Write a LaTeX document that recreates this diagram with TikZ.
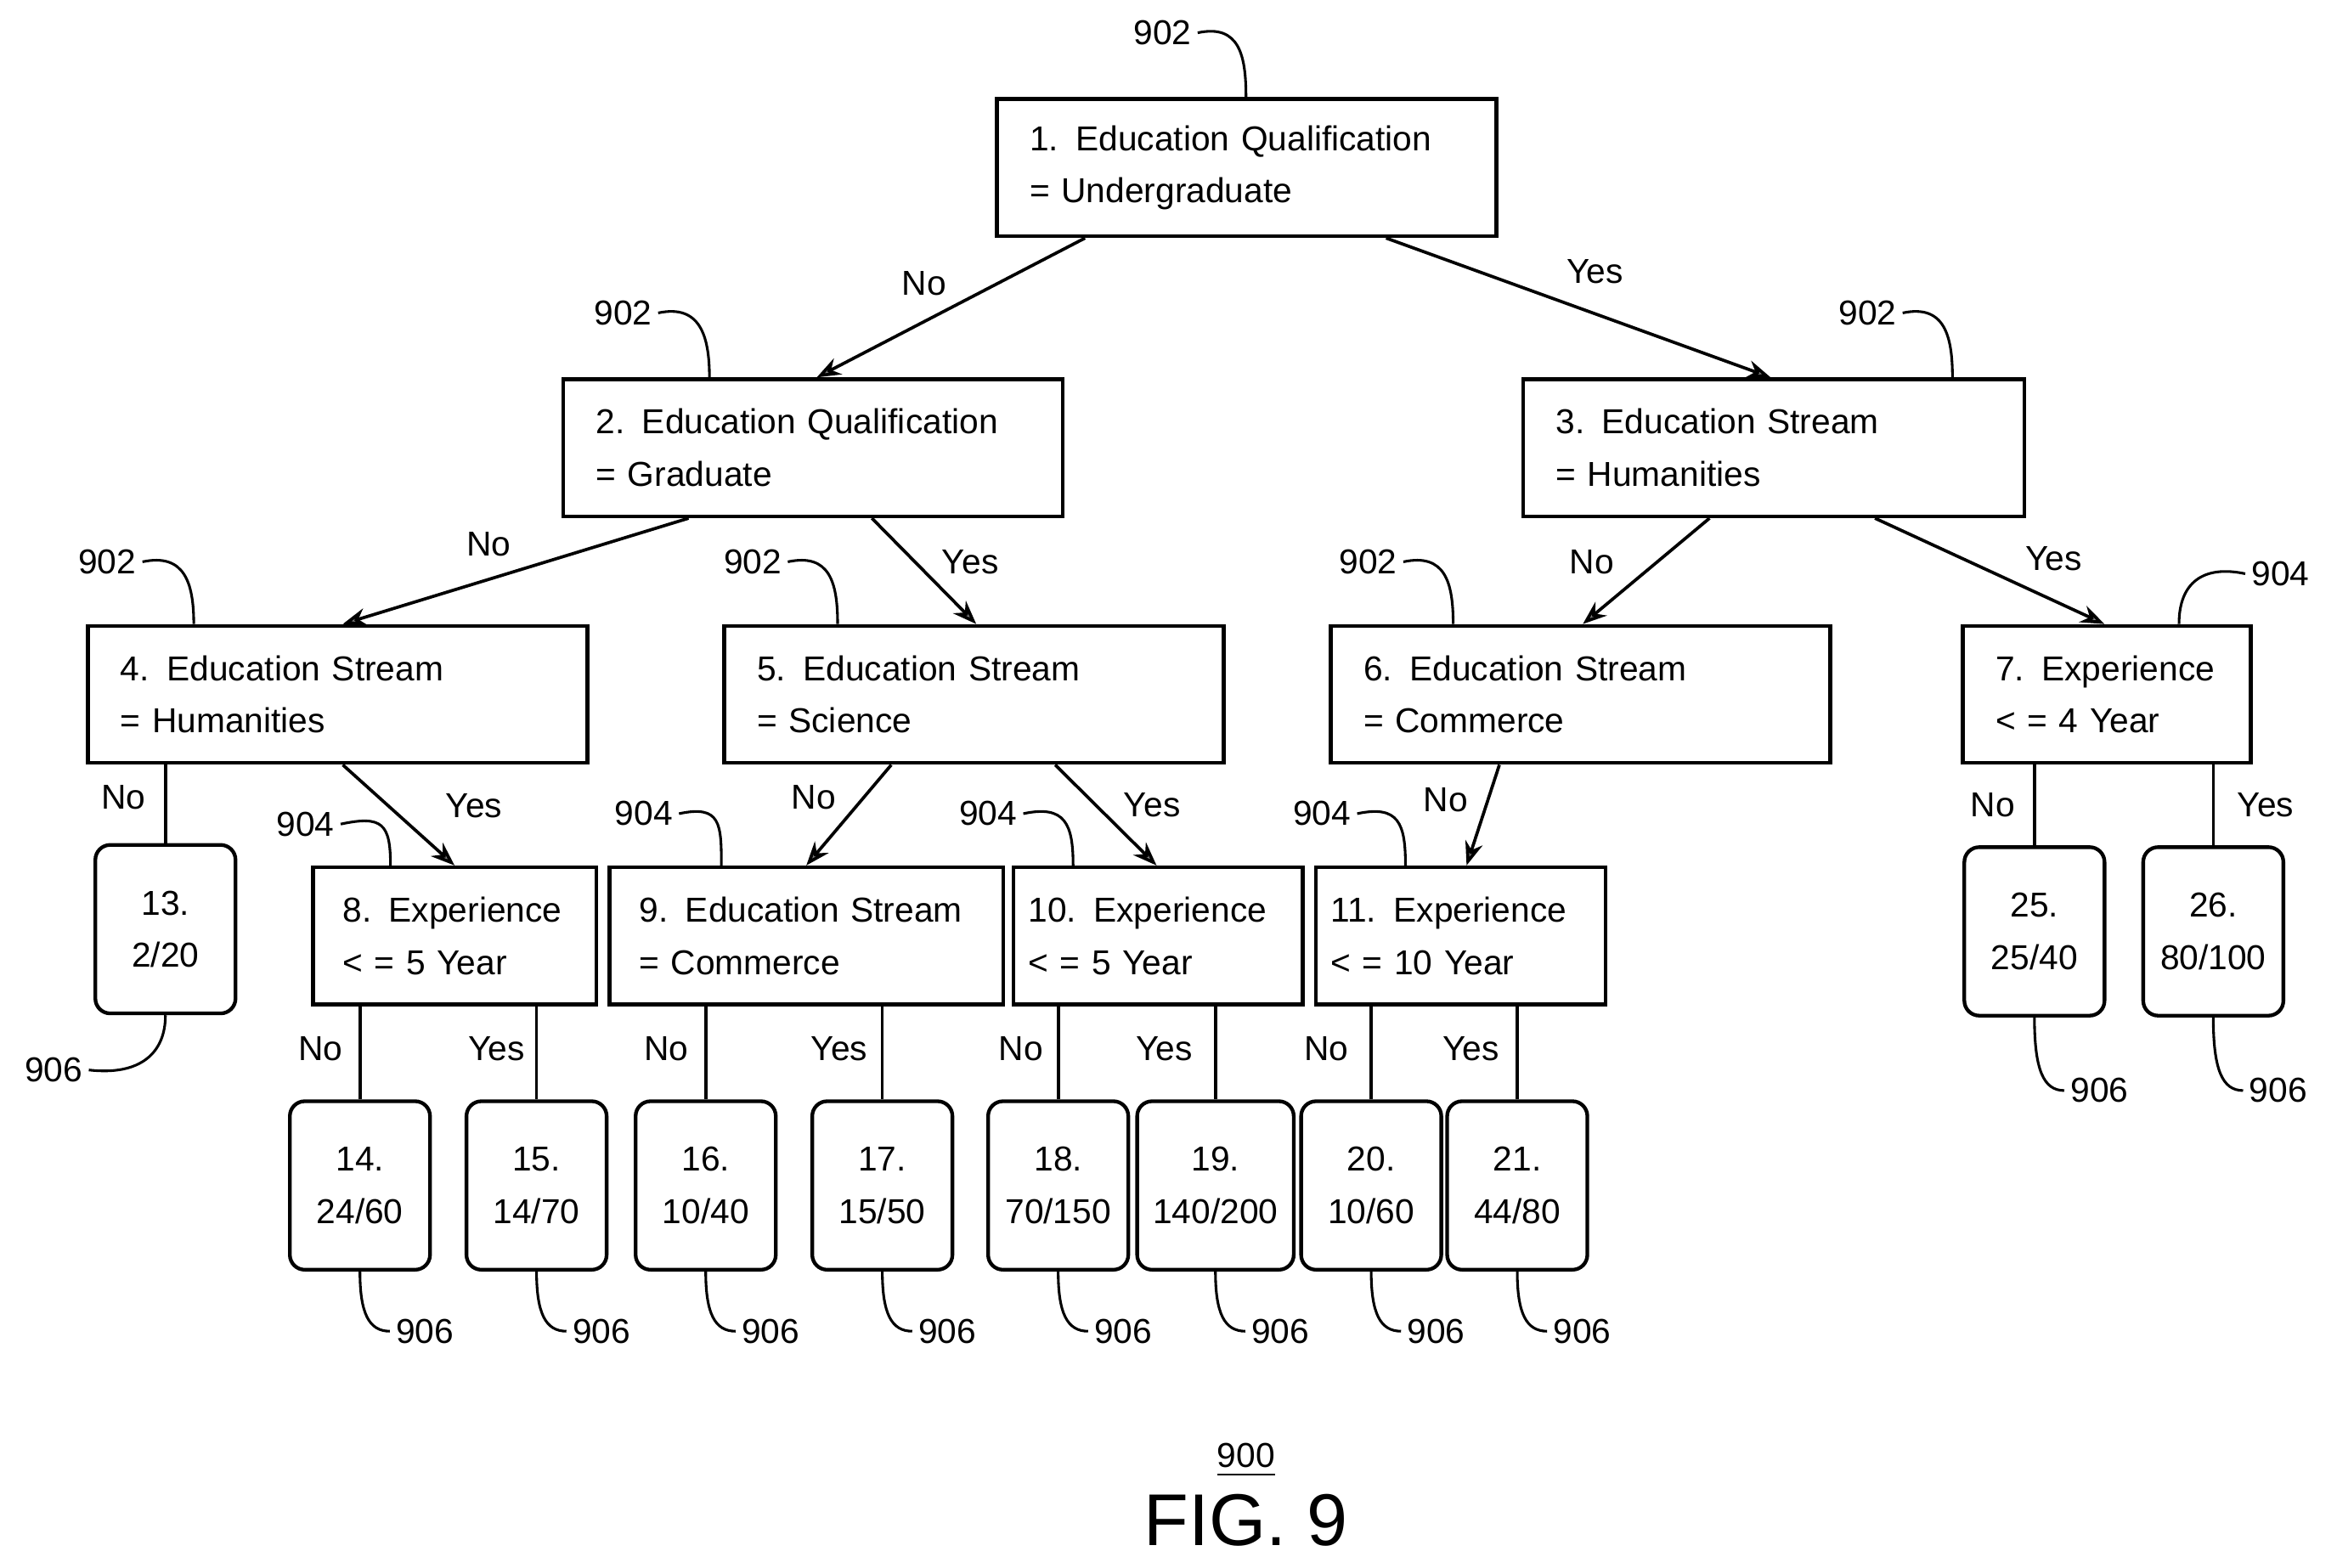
\documentclass[tikz,border=0pt]{standalone}
\usepackage{fontspec}
\setmainfont{Liberation Sans}
\usetikzlibrary{arrows.meta}
\begin{document}
\begin{tikzpicture}[x=0.01cm,y=-0.01cm,
  every node/.style={font=\fontsize{6.6}{10}\selectfont},
  dec/.style={draw,line width=0.7pt,minimum height=0.92cm,inner xsep=0.22cm,inner ysep=0pt,align=left},
  leaf/.style={draw,line width=0.7pt,rounded corners=0.1cm,minimum width=0.94cm,minimum height=1.13cm,inner sep=0pt,align=center},
  arr/.style={line width=0.6pt,-{Stealth[length=0.16cm,width=0.12cm,open,fill=gray]}},
  ln/.style={line width=0.6pt},
  lbl/.style={inner sep=1pt},
  lead/.style={line width=0.5pt}]
\useasboundingbox (0,0) rectangle (1568,1052);
% decision boxes
\node[dec,text width=2.91cm] (b1) at (836.5,112.5) {1. Education Qualification\\= Undergraduate};
\node[dec,text width=2.91cm] (b2) at (545.5,300.5) {2. Education Qualification\\= Graduate};
\node[dec,text width=2.92cm] (b3) at (1190,300.5) {3. Education Stream\\= Humanities};
\node[dec,text width=2.91cm] (b4) at (226.5,466) {4. Education Stream\\= Humanities};
\node[dec,text width=2.91cm] (b5) at (653.5,466) {5. Education Stream\\= Science};
\node[dec,text width=2.91cm] (b6) at (1060.5,466) {6. Education Stream\\= Commerce};
\node[dec,text width=1.49cm] (b7) at (1413.5,466) {7. Experience\\< = 4 Year};
\node[dec,text width=1.50cm,inner xsep=0.2cm] (b8) at (305,628) {8. Experience\\< = 5 Year};
\node[dec,text width=2.24cm,inner xsep=0.2cm] (b9) at (541,628) {9. Education Stream\\= Commerce};
\node[dec,text width=1.74cm,inner xsep=0.1cm] (b10) at (777,628) {10. Experience\\< = 5 Year};
\node[dec,text width=1.74cm,inner xsep=0.1cm] (b11) at (980,628) {11. Experience\\< = 10 Year};
% leaves
\node[leaf] (l13) at (111,623.5) {13.\\2/20};
\node[leaf] (l14) at (241.5,795.5) {14.\\24/60};
\node[leaf] (l15) at (360,795.5) {15.\\14/70};
\node[leaf] (l16) at (473.5,795.5) {16.\\10/40};
\node[leaf] (l17) at (592,795.5) {17.\\15/50};
\node[leaf] (l18) at (710,795.5) {18.\\70/150};
\node[leaf,minimum width=1.05cm] (l19) at (815.5,795.5) {19.\\140/200};
\node[leaf] (l20) at (920,795.5) {20.\\10/60};
\node[leaf] (l21) at (1018,795.5) {21.\\44/80};
\node[leaf] (l25) at (1365,625) {25.\\25/40};
\node[leaf] (l26) at (1485,625) {26.\\80/100};
% connectors
\draw[arr] (b1.south -| 728,0) -- (b2.north -| 548,0);
\draw[arr] (b1.south -| 930,0) -- (b3.north -| 1188,0);
\draw[arr] (b2.south -| 462,0) -- (b4.north -| 230,0);
\draw[arr] (b2.south -| 585,0) -- (b5.north -| 655,0);
\draw[arr] (b3.south -| 1147,0) -- (b6.north -| 1062,0);
\draw[arr] (b3.south -| 1258,0) -- (b7.north -| 1412,0);
\draw[ln] (b4.south -| l13) -- (l13.north);
\draw[arr] (b4.south -| 230,0) -- (b8.north -| 305,0);
\draw[arr] (b5.south -| 598,0) -- (b9.north -| 541,0);
\draw[arr] (b5.south -| 708,0) -- (b10.north -| 776,0);
\draw[arr] (b6.south -| 1006,0) -- (b11.north -| 984,0);
\draw[ln] (b7.south -| l25) -- (l25.north);
\draw[ln] (b7.south -| l26) -- (l26.north);
\foreach \b/\l in {b8/l14,b8/l15,b9/l16,b9/l17,b10/l18,b10/l19,b11/l20,b11/l21}
  \draw[ln] (\b.south -| \l) -- (\l.north);
% branch labels
\node[lbl] (t1) at (620,190) {No};
\node[lbl] (t2) at (1070,182) {Yes};
\node[lbl] (t3) at (328,365) {No};
\node[lbl] (t4) at (651,377) {Yes};
\node[lbl] (t5) at (1068,377) {No};
\node[lbl] (t6) at (1378,375) {Yes};
\node[lbl] (t7) at (83,535) {No};
\node[lbl] (t8) at (318,541) {Yes};
\node[lbl] (t9) at (546,535) {No};
\node[lbl] (t10) at (773,540) {Yes};
\node[lbl] (t11) at (970,537) {No};
\node[lbl] (t12) at (1337,540) {No};
\node[lbl] (t13) at (1520,540) {Yes};
\node[lbl] (t14) at (215,704) {No};
\node[lbl] (t15) at (333,704) {Yes};
\node[lbl] (t16) at (447,704) {No};
\node[lbl] (t17) at (563,704) {Yes};
\node[lbl] (t18) at (685,704) {No};
\node[lbl] (t19) at (781,704) {Yes};
\node[lbl] (t20) at (890,704) {No};
\node[lbl] (t21) at (987,704) {Yes};
% reference numerals with leaders
\foreach \n/\x/\y/\b/\bx in {r1/780/22/b1/836, r2/418/210/b2/476, r3/1253/210/b3/1310,
  r4/72/377/b4/130, r5/505/377/b5/562, r6/918/377/b6/975,
  r8/205/553/b8/262, r9/432/546/b9/484, r10/663/546/b10/720, r11/887/546/b11/943}{
  \node[lbl] (\n) at (\x,\y) {\ifnum\y<400 902\else 904\fi};
  \coordinate (\n c) at (\b.north -| \bx,0);
  \draw[lead] (\n.east) .. controls +(28,-6) and +(0,-28) .. (\n c);
}
\node[lbl] (r7) at (1530,385) {904};
\coordinate (r7c) at (b7.north -| 1462,0);
\draw[lead] (r7.west) .. controls +(-28,-6) and +(0,-28) .. (r7c);
\node[lbl] (s13) at (36,718) {906};
\draw[lead] (s13.east) .. controls +(35,4) and +(0,25) .. (l13.south);
\foreach \l in {l14,l15,l16,l17,l18,l19,l20,l21}{
  \node[lbl,anchor=west] (s\l) at ([xshift=0.2cm,yshift=-0.4cm]\l.south) {906};
  \draw[lead] (\l.south) .. controls +(0,28) and +(-14,0) .. (s\l.west);
}
\foreach \l in {l25,l26}{
  \node[lbl,anchor=west] (s\l) at ([xshift=0.2cm,yshift=-0.49cm]\l.south) {906};
  \draw[lead] (\l.south) .. controls +(0,35) and +(-14,0) .. (s\l.west);
}
\node[lbl] (f900) at (836,980) {\underline{900}};
\node[lbl] (fig) at (836,1020) {\fontsize{14}{16}\selectfont FIG. 9};
\end{tikzpicture}
\end{document}
